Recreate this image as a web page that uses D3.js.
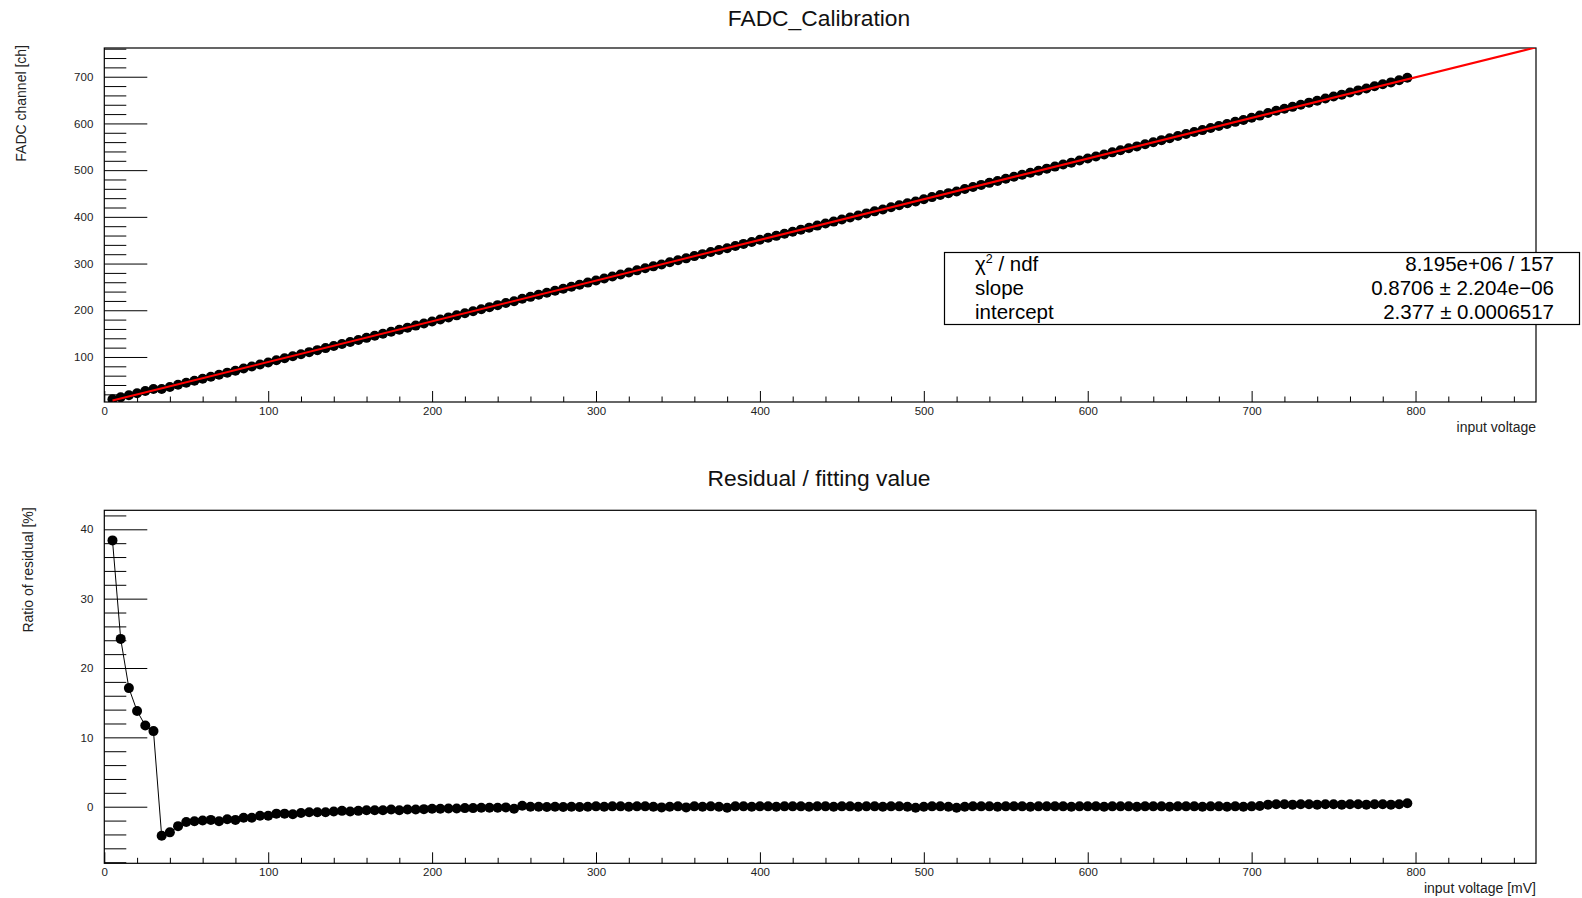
<!DOCTYPE html>
<html><head><meta charset="utf-8">
<script src="https://cdn.jsdelivr.net/npm/d3@7"></script>
<style>
body{margin:0;background:#fff}
svg{display:block}
text{font-family:"Liberation Sans",Arial,Helvetica,sans-serif}
</style>
</head><body>
<svg id="c" width="1582" height="898"></svg>
<script>
const voltage=[5,10,15,20,25,30,35,40,45,50,55,60,65,70,75,80,85,90,95,100,
105,110,115,120,125,130,135,140,145,150,155,160,165,170,175,180,185,190,195,200,
205,210,215,220,225,230,235,240,245,250,255,260,265,270,275,280,285,290,295,300,
305,310,315,320,325,330,335,340,345,350,355,360,365,370,375,380,385,390,395,400,
405,410,415,420,425,430,435,440,445,450,455,460,465,470,475,480,485,490,495,500,
505,510,515,520,525,530,535,540,545,550,555,560,565,570,575,580,585,590,595,600,
605,610,615,620,625,630,635,640,645,650,655,660,665,670,675,680,685,690,695,700,
705,710,715,720,725,730,735,740,745,750,755,760,765,770,775,780,785,790,795];

const channel=[9.31,13.77,18.08,22.52,26.97,31.60,31.47,35.82,40.39,44.90,
49.20,53.52,57.85,61.99,66.45,70.66,75.16,79.44,83.97,88.28,
92.85,97.16,101.37,105.89,110.31,114.63,118.95,123.39,127.84,132.04,
136.50,140.96,145.30,149.63,154.11,158.29,162.79,167.12,171.54,175.97,
180.31,184.74,189.09,193.52,197.86,202.31,206.66,211.00,215.45,219.37,
224.72,228.73,233.09,237.32,241.79,246.03,250.50,254.72,259.21,263.69,
267.91,272.41,276.76,280.97,285.47,289.82,294.03,298.08,302.74,307.24,
311.13,315.96,320.15,324.66,328.86,332.71,337.73,342.08,346.27,350.80,
355.15,359.33,363.86,368.21,372.58,376.74,381.28,385.63,389.80,394.35,
398.70,402.86,407.41,411.77,415.92,420.48,424.83,428.97,432.68,437.68,
442.25,446.61,450.74,454.41,459.45,464.03,468.38,472.74,476.86,481.45,
485.80,490.16,494.27,498.87,503.23,507.58,511.94,516.03,520.65,525.00,
529.35,533.45,538.07,542.42,546.78,550.86,555.49,559.84,564.20,568.27,
572.91,577.27,581.62,585.68,590.34,594.69,598.74,603.39,607.45,612.11,
616.77,622.37,627.05,631.41,635.47,640.15,644.52,648.56,653.26,657.62,
661.66,666.36,670.73,674.76,679.47,683.84,687.86,692.57,697.98];

const ratio=[38.4,24.2,17.1,13.8,11.7,10.9,-4.2,-3.7,-2.8,-2.2,
-2.1,-2.0,-1.9,-2.1,-1.8,-1.9,-1.6,-1.6,-1.3,-1.3,
-1.0,-1.0,-1.1,-0.9,-0.8,-0.8,-0.8,-0.7,-0.6,-0.7,
-0.6,-0.5,-0.5,-0.5,-0.4,-0.5,-0.4,-0.4,-0.35,-0.3,
-0.3,-0.25,-0.25,-0.2,-0.2,-0.15,-0.15,-0.15,-0.1,-0.3,
0.15,0,0,-0.05,0,-0.05,0,-0.05,0,0.05,
0,0.05,0.05,0,0.05,0.05,0,-0.1,0,0.05,
-0.1,0.05,0,0.05,0,-0.15,0.05,0.05,0,0.05,
0.05,0,0.05,0.05,0.05,0,0.05,0.05,0,0.05,
0.05,0,0.05,0.05,0,0.05,0.05,0,-0.15,0,
0.05,0.05,0,-0.15,0,0.05,0.05,0.05,0,0.05,
0.05,0.05,0,0.05,0.05,0.05,0.05,0,0.05,0.05,
0.05,0,0.05,0.05,0.05,0,0.05,0.05,0.05,0,
0.05,0.05,0.05,0,0.05,0.05,0,0.05,0,0.05,
0.1,0.3,0.35,0.35,0.3,0.35,0.35,0.3,0.35,0.35,
0.3,0.35,0.35,0.3,0.35,0.35,0.3,0.35,0.5];

const xTicks=[0,100,200,300,400,500,600,700,800];
const yTicksTop=[100,200,300,400,500,600,700];
const yTicksBottom=[0,10,20,30,40];
const fitSlope=0.8706, fitIntercept=2.377;
const fitRange=[5,873];
const titles=["FADC_Calibration","Residual / fitting value"];
const xTitles=["input voltage","input voltage [mV]"];
const yTitles=["FADC channel [ch]","Ratio of residual [%]"];
const statsLabels=["χ","slope","intercept"];
const statsValues=["8.195e+06 / 157","0.8706 ± 2.204e−06","2.377 ± 0.0006517"];

const svg=d3.select("#c");
svg.append("rect").attr("width",1582).attr("height",898).attr("fill","#fff");

const L=104.3,R=1536;
const top1={T:48,B:402}, bot1={T:510.3,B:863.3};
const x=d3.scaleLinear().domain([0,873.5]).range([L,R]);
const yT=d3.scaleLinear().domain([3.6,761.5]).range([top1.B,top1.T]);
const yB=d3.scaleLinear().domain([-8.16,42.74]).range([bot1.B,bot1.T]);

function styleAxis(g,size){
  g.select(".domain").remove();
  g.attr("font-family",null).attr("font-size",null);
  g.selectAll("line").attr("stroke","#000").attr("stroke-width",1);
  g.selectAll("text").attr("fill","#222").style("font-size",size+"px");
}

function drawAxes(y,frame,majorY,minorYTicks){
  svg.append("rect").attr("x",L).attr("y",frame.T).attr("width",R-L).attr("height",frame.B-frame.T)
    .attr("fill","none").attr("stroke","#000").attr("stroke-width",1.2);
  const xMinor=d3.range(0,873,20).filter(v=>v%100!==0);
  svg.append("g").attr("transform",`translate(0,${frame.B})`)
    .call(d3.axisBottom(x).tickValues(xMinor).tickSizeInner(-5.5).tickSizeOuter(0).tickFormat(""))
    .call(g=>styleAxis(g,11.5));
  svg.append("g").attr("transform",`translate(0,${frame.B})`)
    .call(d3.axisBottom(x).tickValues(xTicks).tickSizeInner(-11).tickSizeOuter(0).tickPadding(5).tickFormat(d3.format("d")))
    .call(g=>styleAxis(g,11.5));
  svg.append("g").attr("transform",`translate(${L},0)`)
    .call(d3.axisLeft(y).tickValues(minorYTicks).tickSizeInner(-22).tickSizeOuter(0).tickFormat(""))
    .call(g=>styleAxis(g,11.5));
  svg.append("g").attr("transform",`translate(${L},0)`)
    .call(d3.axisLeft(y).tickValues(majorY).tickSizeInner(-43).tickSizeOuter(0).tickPadding(11).tickFormat(d3.format("d")))
    .call(g=>styleAxis(g,11.5));
}

const topMinor=d3.range(20,762,20).filter(v=>v%100!==0);
const botMinor=d3.range(-8,43,2).filter(v=>v%10!==0);
drawAxes(yT,top1,yTicksTop,topMinor);
drawAxes(yB,bot1,yTicksBottom,botMinor);

svg.append("clipPath").attr("id","clipT").append("rect")
  .attr("x",L).attr("y",top1.T).attr("width",R-L).attr("height",top1.B-top1.T);

const pts=voltage.map((v,i)=>({v,c:channel[i],r:ratio[i]}));

const gT=svg.append("g").attr("clip-path","url(#clipT)");
gT.selectAll("circle").data(pts).join("circle")
  .attr("cx",d=>x(d.v)).attr("cy",d=>yT(d.c)).attr("r",5).attr("fill","#000");
gT.append("path")
  .datum(fitRange.map(v=>[v,fitSlope*v+fitIntercept]))
  .attr("d",d3.line().x(d=>x(d[0])).y(d=>yT(d[1])))
  .attr("stroke","#ff0000").attr("stroke-width",2).attr("fill","none");

svg.append("path").datum(pts)
  .attr("d",d3.line().x(d=>x(d.v)).y(d=>yB(d.r)))
  .attr("stroke","#000").attr("stroke-width",1).attr("fill","none");
svg.append("g").selectAll("circle").data(pts).join("circle")
  .attr("cx",d=>x(d.v)).attr("cy",d=>yB(d.r)).attr("r",5).attr("fill","#000");

svg.append("text").attr("x",819).attr("y",26).attr("text-anchor","middle")
  .style("font-size","22.8px").attr("fill","#111").text(titles[0]);
svg.append("text").attr("x",819).attr("y",486).attr("text-anchor","middle")
  .style("font-size","22.8px").attr("fill","#111").text(titles[1]);
svg.append("text").attr("x",R).attr("y",432).attr("text-anchor","end")
  .style("font-size","14px").attr("fill","#222").text(xTitles[0]);
svg.append("text").attr("x",R).attr("y",893).attr("text-anchor","end")
  .style("font-size","14px").attr("fill","#222").text(xTitles[1]);
svg.append("text").attr("transform",`translate(26,${top1.T-3}) rotate(-90)`).attr("text-anchor","end")
  .style("font-size","14px").attr("fill","#222").text(yTitles[0]);
svg.append("text").attr("transform",`translate(33,${bot1.T-3}) rotate(-90)`).attr("text-anchor","end")
  .style("font-size","14px").attr("fill","#222").text(yTitles[1]);

const sb={x:944.5,y:252.5,w:635,h:72};
svg.append("rect").attr("x",sb.x).attr("y",sb.y).attr("width",sb.w).attr("height",sb.h)
  .attr("fill","#fff").attr("stroke","#000").attr("stroke-width",1.2);
const rowY=[271,295,319];
statsLabels.forEach((lab,i)=>{
  const t=svg.append("text").attr("x",975).attr("y",rowY[i]).style("font-size","20.5px").attr("fill","#000");
  if(i===0){
    t.append("tspan").text(lab);
    t.append("tspan").attr("dy",-8).style("font-size","12.5px").text("2");
    t.append("tspan").attr("dy",8).text(" / ndf");
  } else t.text(lab);
  svg.append("text").attr("x",1554).attr("y",rowY[i]).attr("text-anchor","end")
    .style("font-size","20.5px").attr("fill","#000").text(statsValues[i]);
});
</script>
</body></html>
